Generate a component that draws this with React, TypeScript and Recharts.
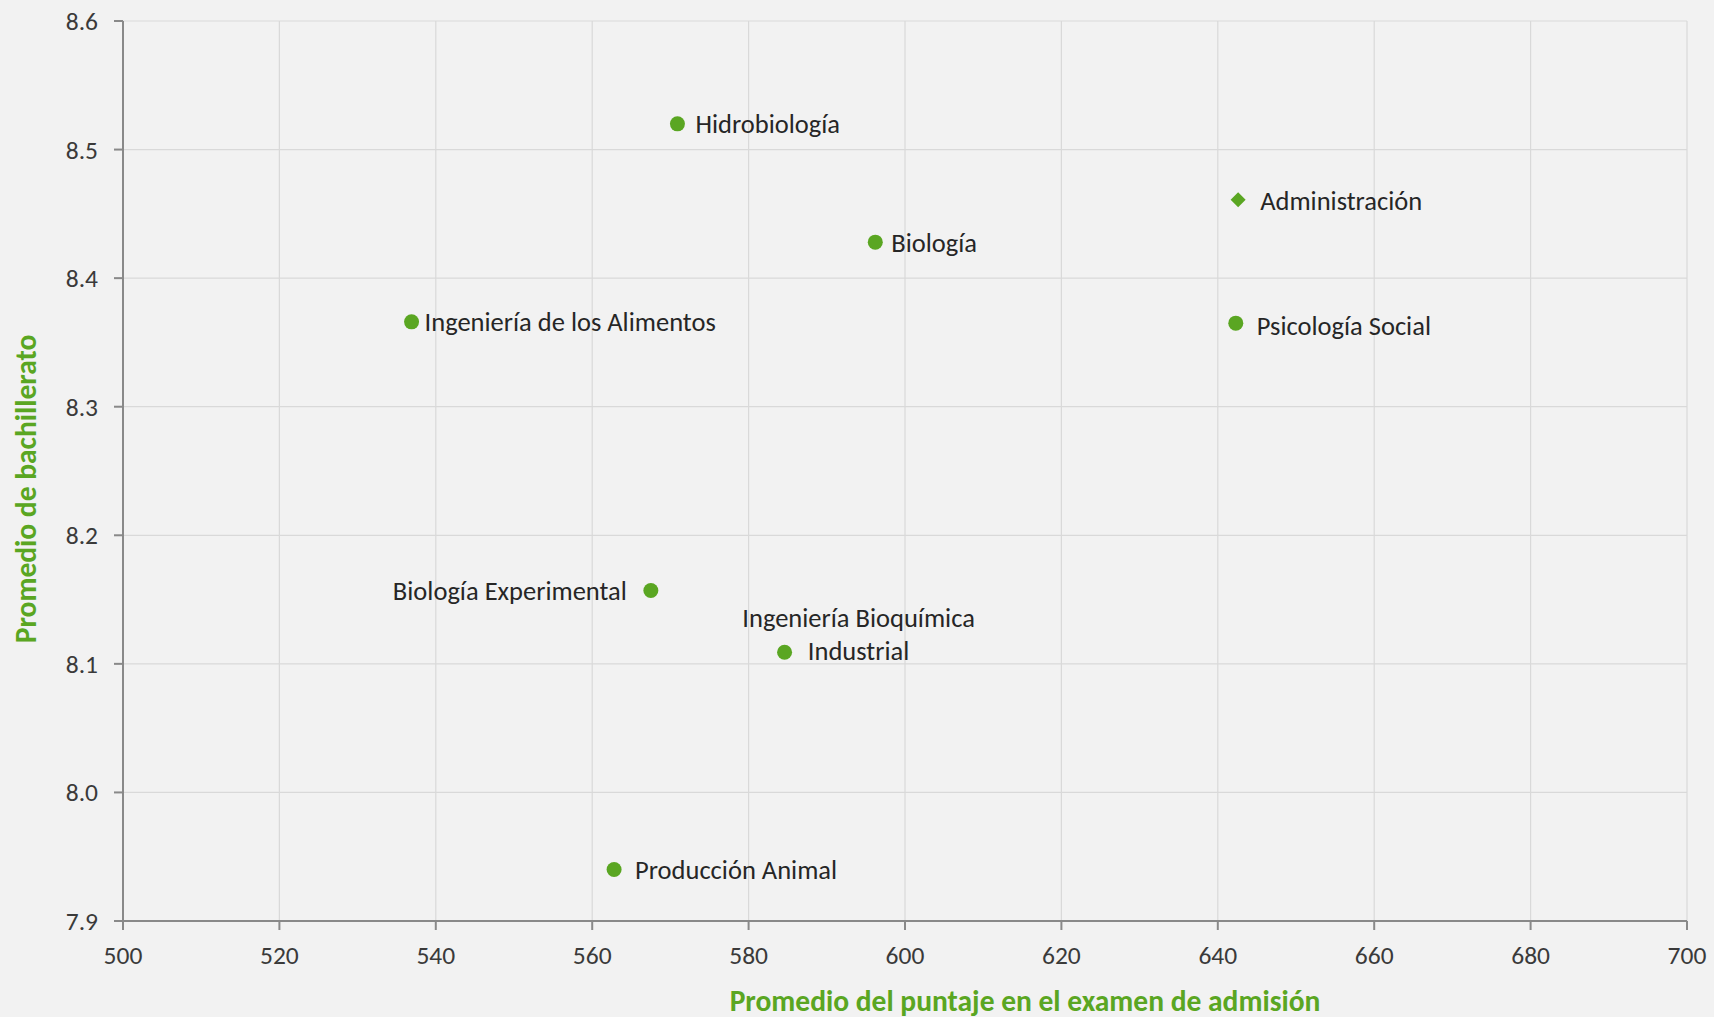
import { ScatterChart, Scatter, XAxis, YAxis, CartesianGrid } from 'recharts';

// Programas y sus promedios
const programs = [
  'Hidrobiología',
  'Biología',
  'Ingeniería de los Alimentos',
  'Psicología Social',
  'Biología Experimental',
  'Ingeniería Bioquímica\nIndustrial',
  'Producción Animal',
];
const admissionScores = [570.9, 596.2, 536.9, 642.3, 567.5, 584.6, 562.8];
const highSchoolAverages = [8.52, 8.428, 8.366, 8.365, 8.157, 8.109, 7.94];

// Administración va con otro marcador (rombo)
const highlightName = 'Administración';
const highlightScore = 642.6;
const highlightAverage = 8.461;

const xTicks = [500, 520, 540, 560, 580, 600, 620, 640, 660, 680, 700];
const yTicks = [7.9, 8.0, 8.1, 8.2, 8.3, 8.4, 8.5, 8.6];

const xTitle = 'Promedio del puntaje en el examen de admisión';
const yTitle = 'Promedio de bachillerato';

const GREEN = '#5aa622';
const FONT = 'Calibri, Carlito, Lato, sans-serif';

// where each label sits relative to its marker
const labelPlacement: Record<string, { dx: number; dy: number; anchor: 'start' | 'middle' | 'end' }> = {
  'Hidrobiología': { dx: 18, dy: 0, anchor: 'start' },
  'Administración': { dx: 22, dy: 1, anchor: 'start' },
  'Biología': { dx: 16, dy: 1, anchor: 'start' },
  'Ingeniería de los Alimentos': { dx: 13, dy: 0, anchor: 'start' },
  'Psicología Social': { dx: 21, dy: 3, anchor: 'start' },
  'Biología Experimental': { dx: -24, dy: 0, anchor: 'end' },
  'Ingeniería Bioquímica\nIndustrial': { dx: 74, dy: -1, anchor: 'middle' },
  'Producción Animal': { dx: 21, dy: 0, anchor: 'start' },
};

const pointData = programs.map((name, i) => ({
  name,
  score: admissionScores[i],
  avg: highSchoolAverages[i],
}));
const highlightData = [{ name: highlightName, score: highlightScore, avg: highlightAverage }];

function PointLabel({ cx, cy, name }: { cx: number; cy: number; name: string }) {
  const p = labelPlacement[name] || { dx: 16, dy: 0, anchor: 'start' };
  const lines = name.split('\n');
  const lineH = 33;
  return (
    <text
      x={cx + p.dx}
      y={cy + p.dy}
      textAnchor={p.anchor}
      fontFamily={FONT}
      fontSize={26.5}
      fill="#262626"
    >
      {lines.map((ln, i) => (
        <tspan
          key={i}
          x={cx + p.dx}
          y={cy + p.dy - (lines.length - 1 - i) * lineH}
          dominantBaseline="central"
        >
          {ln}
        </tspan>
      ))}
    </text>
  );
}

const circleShape = (props: any) => {
  const { cx, cy, payload } = props;
  return (
    <g>
      <circle cx={cx} cy={cy} r={7.5} fill={GREEN} />
      <PointLabel cx={cx} cy={cy} name={payload.name} />
    </g>
  );
};

const diamondShape = (props: any) => {
  const { cx, cy, payload } = props;
  const s = 7.5;
  return (
    <g>
      <polygon points={`${cx},${cy - s} ${cx + s},${cy} ${cx},${cy + s} ${cx - s},${cy}`} fill={GREEN} />
      <PointLabel cx={cx} cy={cy} name={payload.name} />
    </g>
  );
};

export default function App() {
  return (
    <div style={{ position: 'absolute', top: 0, left: 0, width: 1714, height: 1017, background: '#f2f2f2' }}>
      <ScatterChart width={1714} height={1017} margin={{ top: 21, right: 27, left: 0, bottom: 0 }}>
        <CartesianGrid stroke="#d9d9d9" strokeWidth={1.2} />
        <XAxis
          type="number"
          dataKey="score"
          domain={[500, 700]}
          ticks={xTicks}
          interval={0}
          height={96}
          stroke="#898989"
          strokeWidth={2}
          tickSize={9}
          tickMargin={16}
          tick={{ fill: '#3a3a3a', fontSize: 25.5, fontFamily: FONT }}
          label={{
            value: xTitle,
            position: 'insideBottom',
            offset: 6,
            dx: 120,
            fill: GREEN,
            fontSize: 29.5,
            fontWeight: 700,
            fontFamily: FONT,
          }}
        />
        <YAxis
          type="number"
          dataKey="avg"
          domain={[7.9, 8.6]}
          ticks={yTicks}
          interval={0}
          width={123}
          stroke="#898989"
          strokeWidth={2}
          tickSize={9}
          tickMargin={16}
          tickFormatter={(v: number) => v.toFixed(1)}
          tick={{ fill: '#3a3a3a', fontSize: 25.5, fontFamily: FONT }}
          label={{
            value: yTitle,
            angle: -90,
            position: 'insideLeft',
            offset: 26,
            dy: 18,
            fill: GREEN,
            fontSize: 29.5,
            fontWeight: 700,
            fontFamily: FONT,
            style: { textAnchor: 'middle' },
          }}
        />
        <Scatter data={pointData} fill={GREEN} shape={circleShape} isAnimationActive={false} />
        <Scatter data={highlightData} fill={GREEN} shape={diamondShape} isAnimationActive={false} />
      </ScatterChart>
    </div>
  );
}
